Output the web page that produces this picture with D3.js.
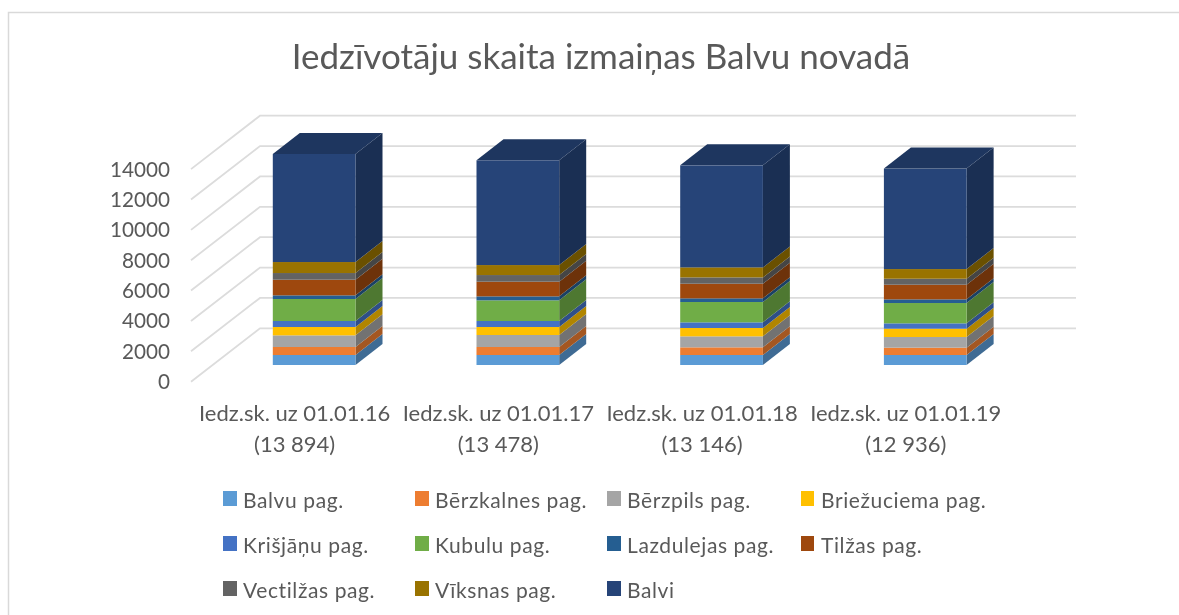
<!DOCTYPE html>
<html lang="lv">
<head>
<meta charset="utf-8">
<script src="https://cdn.jsdelivr.net/npm/d3@7/dist/d3.min.js"></script>
<style>
html,body{margin:0;padding:0;background:#fff;overflow:hidden}
svg{display:block;filter:blur(0.45px)}
text{font-family:Lato,"Open Sans",sans-serif;fill:#595959}
</style>
</head>
<body>
<svg id="chart" width="1179" height="615"></svg>
<script>
const chartTitle = "Iedzīvotāju skaita izmaiņas Balvu novadā";
const categories = ["Iedz.sk. uz 01.01.16","Iedz.sk. uz 01.01.17","Iedz.sk. uz 01.01.18","Iedz.sk. uz 01.01.19"];
const totals = ["(13 894)","(13 478)","(13 146)","(12 936)"];
const seriesNames = ["Balvu pag.","Bērzkalnes pag.","Bērzpils pag.","Briežuciema pag.","Krišjāņu pag.","Kubulu pag.","Lazdulejas pag.","Tilžas pag.","Vectilžas pag.","Vīksnas pag.","Balvi"];
const seriesColors = ["#5b9bd5","#ed7d31","#a5a5a5","#ffc000","#4472c4","#70ad47","#255e91","#9e480e","#636363","#997300","#264478"];
const balvuPag = [658,658,658,658];
const berzkalnesPag = [527,527,505,483];
const berzpilsPag = [768,790,724,702];
const briezuciemaPag = [549,527,549,549];
const krisjanuPag = [395,395,373,351];
const kubuluPag = [1448,1360,1338,1338];
const lazdulejasPag = [241,263,241,241];
const tilzasPag = [1031,965,965,965];
const vectilzasPag = [439,439,417,395];
const viksnasPag = [724,658,658,636];
const balvi = [7114,6896,6718,6618];
const seriesValues = [balvuPag,berzkalnesPag,berzpilsPag,briezuciemaPag,krisjanuPag,kubuluPag,lazdulejasPag,tilzasPag,vectilzasPag,viksnasPag,balvi];
const tickValues = [0,2000,4000,6000,8000,10000,12000,14000];

const svg = d3.select("#chart");
const rows = categories.map((c,i)=>{
  const r={category:c};
  seriesNames.forEach((s,j)=>r[s]=seriesValues[j][i]);
  return r;
});
const stacked = d3.stack().keys(seriesNames)(rows);

// frame
svg.append("path").attr("d","M8.5,615V12.5H1179").attr("fill","none").attr("stroke","#d9d9d9").attr("stroke-width",1.5);

// title
svg.append("text").attr("x",601).attr("y",69).attr("text-anchor","middle")
  .attr("font-size",35).text(chartTitle);

// scales
const unit = d3.scaleLinear().domain([0,14000]).range([0,212.6]);
const wallBackY = 328.3, wallBackX = 260, wallEndX = 1076;
const wallFrontX = 191, wallFrontY = 381.7;
const depthX = 27, depthY = 21;
const barBaseY = 365;
const x = d3.scaleBand().domain(categories).range([212.3,1027.1]).paddingInner(0.594).paddingOuter(0.297);

// gridlines
const grid = svg.append("g").attr("fill","none").attr("stroke","#dcdcdc").attr("stroke-width",1.8);
grid.selectAll("path").data(tickValues).join("path")
  .attr("d",v=>`M${wallFrontX},${wallFrontY-unit(v)}L${wallBackX},${wallBackY-unit(v)}H${wallEndX}`);

// tick labels
svg.append("g").selectAll("text").data(tickValues).join("text")
  .attr("x",170).attr("y",v=>wallFrontY-unit(v)+7.5).attr("text-anchor","end")
  .attr("font-size",20.7).text(v=>v);

// bars
const shade = (c,k)=>d3.rgb(c).darker(k).formatHex();
categories.forEach((cat,i)=>{
  const g = svg.append("g");
  const x0 = x(cat), w = x.bandwidth();
  stacked.forEach((layer,j)=>{
    const y0 = barBaseY-unit(layer[i][0]), y1 = barBaseY-unit(layer[i][1]);
    const c = seriesColors[j];
    g.append("path").attr("fill",shade(c,1.03))
      .attr("d",`M${x0+w},${y0}L${x0+w+depthX},${y0-depthY}V${y1-depthY}L${x0+w},${y1}Z`);
    g.append("rect").attr("x",x0).attr("y",y1).attr("width",w).attr("height",y0-y1).attr("fill",c);
    if(j===stacked.length-1){
      g.append("path").attr("fill",shade(c,0.65))
        .attr("d",`M${x0},${y1}L${x0+depthX},${y1-depthY}H${x0+w+depthX}L${x0+w},${y1}Z`);
    }
  });
  const cx = x0+w/2-19.5;
  svg.append("text").attr("x",cx).attr("y",421).attr("text-anchor","middle").attr("font-size",22).text(cat);
  svg.append("text").attr("x",cx).attr("y",452).attr("text-anchor","middle").attr("font-size",22).text(totals[i]);
});

// legend
const legendColX = [223,415,607,801];
const legendRowY = [491,536,581];
const legend = svg.append("g");
seriesNames.forEach((s,i)=>{
  const col = i%4, row = Math.floor(i/4);
  legend.append("rect").attr("x",legendColX[col]).attr("y",legendRowY[row])
    .attr("width",col===3?13:14).attr("height",15).attr("fill",seriesColors[i]);
  legend.append("text").attr("x",legendColX[col]+20).attr("y",legendRowY[row]+17)
    .attr("font-size",21).attr("letter-spacing",0.6).text(s);
});
</script>
</body>
</html>
